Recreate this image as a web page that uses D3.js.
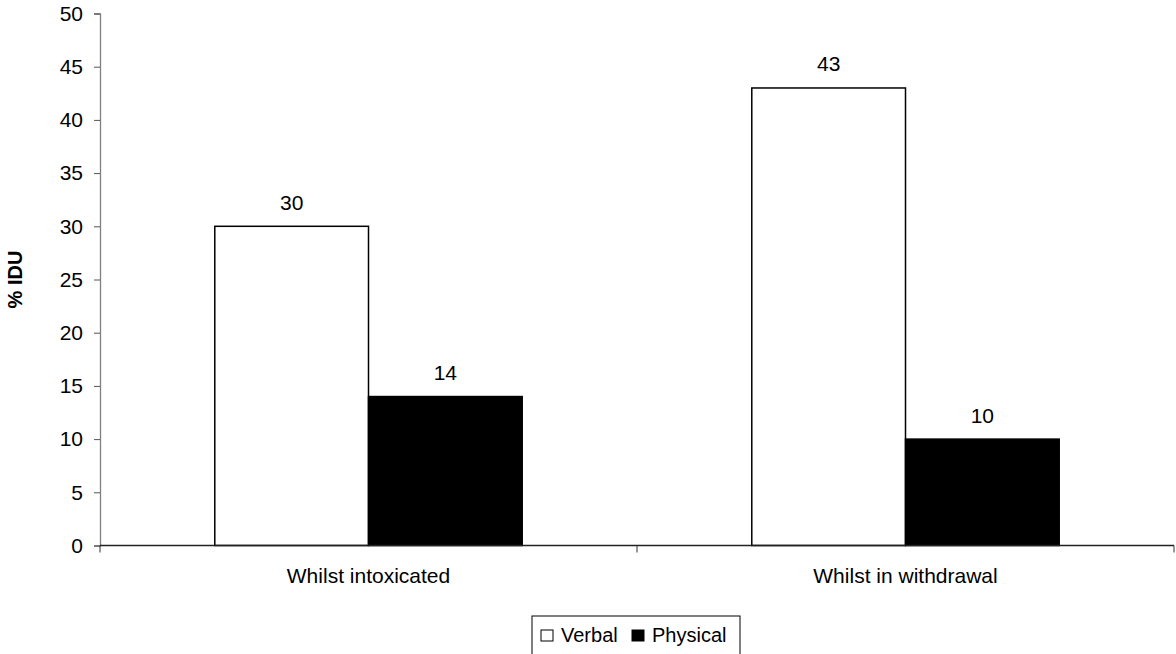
<!DOCTYPE html>
<html>
<head>
<meta charset="utf-8">
<script src="https://cdn.jsdelivr.net/npm/d3@7"></script>
<style>
  html, body { margin: 0; padding: 0; background: #fff; }
  svg { display: block; font-family: "Liberation Sans", Arial, sans-serif; }
</style>
</head>
<body>
<svg id="chart" width="1176" height="654"></svg>
<script>
// Share of IDU reporting aggression, by state and type
const categories = ["Whilst intoxicated", "Whilst in withdrawal"];
const seriesNames = ["Verbal", "Physical"];
const verbal = [30, 43];
const physical = [14, 10];
const yTicks = [0, 5, 10, 15, 20, 25, 30, 35, 40, 45, 50];
const fills = ["#ffffff", "#000000"];

const svg = d3.select("#chart");
const plotLeft = 100, plotRight = 1174, plotTop = 13.5, plotBottom = 545.5;
const fontSize = 21;

const x0 = d3.scaleBand().domain(categories).range([plotLeft, plotRight]).paddingInner(0).paddingOuter(0);
const x1 = d3.scaleBand().domain(seriesNames).range([0, x0.bandwidth()]).paddingInner(0).paddingOuter(0.7468);
const y = d3.scaleLinear().domain([0, 50]).range([plotBottom, plotTop]);

const rows = categories.map((c, i) => ({ cat: c, vals: [verbal[i], physical[i]] }));

// Bars
const groups = svg.selectAll("g.grp").data(rows).join("g")
  .attr("class", "grp")
  .attr("transform", d => `translate(${x0(d.cat)},0)`);

groups.selectAll("rect").data(d => d.vals.map((v, j) => ({ name: seriesNames[j], v, j })))
  .join("rect")
  .attr("x", d => x1(d.name))
  .attr("y", d => y(d.v))
  .attr("width", x1.bandwidth())
  .attr("height", d => y(0) - y(d.v))
  .attr("fill", d => fills[d.j])
  .attr("stroke", "#000")
  .attr("stroke-width", 1.5);

// Value labels
groups.selectAll("text.val").data(d => d.vals.map((v, j) => ({ name: seriesNames[j], v })))
  .join("text")
  .attr("class", "val")
  .attr("x", d => x1(d.name) + x1.bandwidth() / 2)
  .attr("y", d => y(d.v) - 16.5)
  .attr("text-anchor", "middle")
  .attr("font-size", fontSize)
  .attr("fill", "#000")
  .text(d => d.v);

// Y axis
const yAxis = svg.append("g")
  .attr("transform", `translate(${plotLeft},0)`)
  .call(d3.axisLeft(y).tickValues(yTicks).tickSize(6).tickPadding(11));
yAxis.select(".domain").attr("stroke", "#808080").attr("stroke-width", 1.3);
yAxis.selectAll(".tick line").attr("stroke", "#555");
yAxis.selectAll(".tick text").attr("font-size", fontSize).attr("fill", "#000")
  .attr("font-family", "Liberation Sans, Arial, sans-serif");

// X axis
const xAxis = svg.append("g")
  .attr("transform", `translate(0,${plotBottom})`);
xAxis.append("line")
  .attr("x1", plotLeft).attr("x2", plotRight).attr("y1", 0).attr("y2", 0)
  .attr("stroke", "#222").attr("stroke-width", 1.3);
const xBounds = [plotLeft, ...categories.map(c => x0(c) + x0.bandwidth())];
xAxis.selectAll("line.tk").data(xBounds).join("line")
  .attr("class", "tk")
  .attr("x1", d => d).attr("x2", d => d)
  .attr("y1", 0).attr("y2", 7)
  .attr("stroke", "#333");
xAxis.selectAll("text.cat").data(categories).join("text")
  .attr("class", "cat")
  .attr("x", d => x0(d) + x0.bandwidth() / 2)
  .attr("y", 37.5)
  .attr("text-anchor", "middle")
  .attr("font-size", fontSize)
  .attr("fill", "#000")
  .text(d => d);

// Y axis title
svg.append("text")
  .attr("transform", `translate(22,${(plotTop + plotBottom) / 2}) rotate(-90)`)
  .attr("text-anchor", "middle")
  .attr("font-size", 20)
  .attr("font-weight", "bold")
  .text("% IDU");

// Legend
const legend = svg.append("g").attr("transform", "translate(532,616)");
legend.append("rect")
  .attr("x", 0).attr("y", 0).attr("width", 208).attr("height", 44)
  .attr("fill", "#fff").attr("stroke", "#000").attr("stroke-width", 1);
const items = [{ name: "Verbal", x: 9 }, { name: "Physical", x: 100 }];
items.forEach((it, j) => {
  legend.append("rect")
    .attr("x", it.x).attr("y", 14).attr("width", 12).attr("height", 11)
    .attr("fill", fills[j]).attr("stroke", "#000").attr("stroke-width", 1);
  legend.append("text")
    .attr("x", it.x + 20).attr("y", 25.5)
    .attr("font-size", 20)
    .text(it.name);
});
</script>
</body>
</html>
